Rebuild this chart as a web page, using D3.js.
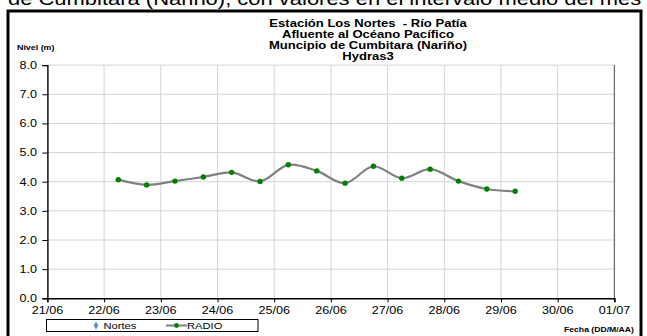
<!DOCTYPE html>
<html><head><meta charset="utf-8">
<script src="https://cdn.jsdelivr.net/npm/d3@7"></script>
<style>body{margin:0;background:#fff}svg{display:block}text{font-family:Arial,"Liberation Sans",sans-serif}</style>
</head><body>
<svg id="c" width="647" height="336"></svg>
<script>
const titleLines = ["Estación Los Nortes  - Río Patía","Afluente al Océano Pacífico","Muncipio de Cumbitara (Nariño)","Hydras3"];
const headerText = "de Cumbitara (Nariño), con valores en el intervalo medio del mes";
const yLabel = "Nivel (m)";
const xLabel = "Fecha (DD/M/AA)";
const yTicks = [0,1,2,3,4,5,6,7,8];
const xStart = "2010-06-21", xEnd = "2010-07-01";
const radioTimes = ["2010-06-22 06:00","2010-06-22 18:00","2010-06-23 06:00","2010-06-23 18:00","2010-06-24 06:00","2010-06-24 18:00","2010-06-25 06:00","2010-06-25 18:00","2010-06-26 06:00","2010-06-26 18:00","2010-06-27 06:00","2010-06-27 18:00","2010-06-28 06:00","2010-06-28 18:00","2010-06-29 06:00"];
const radioValues = [4.07,3.89,4.02,4.16,4.32,4.01,4.58,4.37,3.95,4.53,4.12,4.43,4.02,3.75,3.67];
const nortesValues = [];
const legendNames = ["Nortes","RADIO"];

const parse = d3.timeParse("%Y-%m-%d %H:%M");
const parseD = d3.timeParse("%Y-%m-%d");
const svg = d3.select("#c");
const SX = 1.2;
function stext(g, x, y, str, size, opts={}) {
  return g.append("text")
    .attr("transform", `translate(${x},${y}) scale(${opts.sx||SX},1)`)
    .attr("font-size", size)
    .attr("font-weight", opts.bold ? "bold" : "normal")
    .attr("text-anchor", opts.anchor || "start")
    .attr("fill", opts.fill || "#000")
    .style("white-space", "pre")
    .text(str);
}

svg.append("rect").attr("width",647).attr("height",336).attr("fill","#fff");
// header text cut off at top
stext(svg, 8, 4.5, headerText, 18.3, {});
// outer frame
svg.append("rect").attr("x",8).attr("y",11).attr("width",633).attr("height",340)
  .attr("fill","#fff").attr("stroke","#000").attr("stroke-width",3);

const x = d3.scaleTime().domain([parseD(xStart), parseD(xEnd)]).range([47.4, 614.4]);
const y = d3.scaleLinear().domain([0, 8]).range([298.3, 65.1]);

// grid
const grid = svg.append("g");
grid.selectAll("line.h").data(yTicks.filter(d=>d>0)).join("line")
  .attr("x1", x.range()[0]).attr("x2", x.range()[1])
  .attr("y1", d=>y(d)).attr("y2", d=>y(d))
  .attr("stroke","#d4d4d4").attr("stroke-width",1);
const days = d3.timeDay.range(parseD(xStart), d3.timeDay.offset(parseD(xEnd),1));
grid.selectAll("line.v").data(days.slice(1, -1)).join("line")
  .attr("x1", d=>x(d)).attr("x2", d=>x(d))
  .attr("y1", y(0)).attr("y2", y(8))
  .attr("stroke","#d4d4d4").attr("stroke-width",1);
svg.append("line").attr("x1", x(parseD(xEnd))).attr("x2", x(parseD(xEnd)))
  .attr("y1", y(0)).attr("y2", y(8)).attr("stroke","#6e6e6e").attr("stroke-width",1.3);

// axes
const yAxis = svg.append("g").attr("transform",`translate(${x.range()[0]},0)`)
  .call(d3.axisLeft(y).tickValues(yTicks).tickSize(5).tickFormat(()=>""));
const xAxis = svg.append("g").attr("transform",`translate(0,${y(0)})`)
  .call(d3.axisBottom(x).tickValues(days).tickSize(4).tickFormat(()=>""));
[yAxis, xAxis].forEach(a => { a.select(".domain").attr("stroke","#000").attr("stroke-width",1.4); a.selectAll(".tick line").attr("stroke","#000"); });
yTicks.forEach(v => stext(svg, 37, y(v) + 3.8, d3.format(".1f")(v), 10.5, {anchor:"end"}));
const fmt = d3.timeFormat("%d/%m");
days.forEach(d => stext(svg, x(d), 313.5, fmt(d), 10.5, {anchor:"middle"}));

// titles
titleLines.forEach((t,i) => stext(svg, 368, 27 + i*11.1, t, 10.9, {bold:true, anchor:"middle"}));
stext(svg, 17, 49.5, yLabel, 7.4, {bold:true});
stext(svg, 564, 332, xLabel, 7.2, {bold:true});

// series
const pts = radioTimes.map((t,i) => [parse(t), radioValues[i]]);
const line = d3.line().x(d=>x(d[0])).y(d=>y(d[1])).curve(d3.curveCatmullRom.alpha(0.5));
svg.append("path").attr("d", line(pts)).attr("fill","none").attr("stroke","#808080").attr("stroke-width",2.2);
svg.selectAll("circle.r").data(pts).join("circle")
  .attr("cx", d=>x(d[0])).attr("cy", d=>y(d[1])).attr("r",2.7).attr("fill","#008000");
svg.selectAll("path.n").data(nortesValues).join("path")
  .attr("d", d3.symbol(d3.symbolDiamond, 20)).attr("fill","#4f81bd");

// legend
const lg = svg.append("g");
lg.append("rect").attr("x",46.5).attr("y",319.5).attr("width",211.5).attr("height",12)
  .attr("fill","#fff").attr("stroke","#000").attr("stroke-width",1);
lg.append("path").attr("transform","translate(96,325.5)").attr("d", d3.symbol(d3.symbolDiamond, 18)()).attr("fill","#5b8bd0");
stext(lg, 103.5, 329, legendNames[0], 9.3, {});
lg.append("line").attr("x1",166).attr("x2",187).attr("y1",325.5).attr("y2",325.5).attr("stroke","#808080").attr("stroke-width",2);
lg.append("circle").attr("cx",176.5).attr("cy",325.5).attr("r",2.4).attr("fill","#008000");
stext(lg, 187, 329, legendNames[1], 9.3, {});
</script>
</body></html>
